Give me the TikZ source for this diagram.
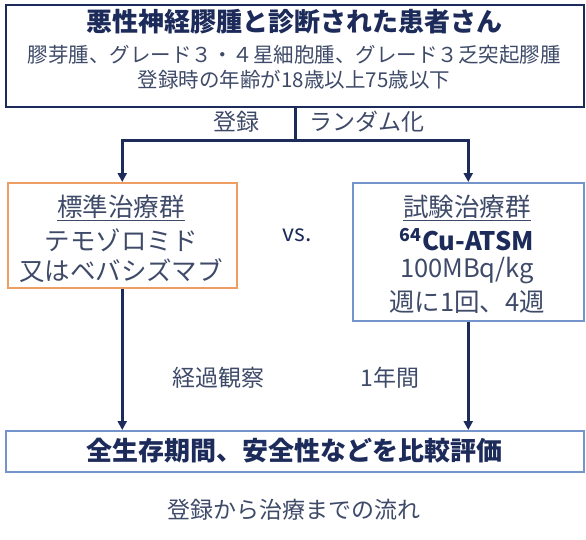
\documentclass[tikz,border=0pt]{standalone}
\usepackage{fontspec}
\setmainfont{Noto Sans CJK JP}
\usetikzlibrary{arrows.meta}
\definecolor{navy}{HTML}{1C2B5A}
\definecolor{slate}{HTML}{3E4A68}
\definecolor{boxorange}{HTML}{EE9E62}
\definecolor{boxblue}{HTML}{7494CC}
\newcommand{\bigtxt}{\fontsize{25.5}{30}\selectfont}
\newcommand{\midtxt}{\fontsize{20.5}{24}\selectfont}
\newcommand{\lbltxt}{\fontsize{23}{27}\selectfont}
\begin{document}
\begin{tikzpicture}[x=1pt, y=-1pt,
    box/.style={draw, line width=1.5pt, inner sep=0pt, anchor=north west},
    txt/.style={inner sep=0pt, text=slate},
    flow/.style={draw=navy, line width=3pt},
    arr/.style={flow, -{Triangle[length=9pt,width=9pt]}}]
	\useasboundingbox (0,0) rectangle (586,539);
	% boxes
	\node[box, draw=navy, line width=2pt, minimum width=578, minimum height=102] (patient) at (5,4) {};
	\node[box, draw=boxorange, minimum width=229, minimum height=105] (std) at (7,182) {};
	\node[box, draw=boxblue, minimum width=231, minimum height=138] (trial) at (352,182) {};
	\node[box, draw=boxblue, minimum width=578, minimum height=41] (eval) at (5,430) {};
	% texts in the top box
	\node[txt, text=navy, font=\fontsize{26}{30}\selectfont\bfseries] (title) at (294,22) {悪性神経膠腫と診断された患者さん};
	\node[txt, font=\midtxt] (types) at (294,55) {膠芽腫、グレード３・４星細胞腫、グレード３乏突起膠腫};
	\node[txt, font=\midtxt] (age) at (294,80) {登録時の年齢が18歳以上75歳以下};
	% arms
	\node[txt, font=\bigtxt] (stdname) at (121,208) {\underline{標準治療群}};
	\node[txt, font=\bigtxt] (tmz) at (121,240) {テモゾロミド};
	\node[txt, font=\bigtxt] (bev) at (121,271) {又はベバシズマブ};
	\node[txt, font=\bigtxt] (trialname) at (467,208) {\underline{試験治療群}};
	\node[txt, text=navy, font=\bigtxt\bfseries] (drug) at (467,240) {\textsuperscript{64}Cu-ATSM};
	\node[txt, font=\bigtxt] (dose) at (467,271) {100MBq/kg};
	\node[txt, font=\bigtxt] (sched) at (467,302) {週に1回、4週};
	\node[txt, text=navy, font=\lbltxt] (vs) at (297,235) {vs.};
	% labels
	\node[txt, font=\lbltxt] (reg) at (236,122) {登録};
	\node[txt, font=\lbltxt] (rand) at (367,122) {ランダム化};
	\node[txt, font=\lbltxt] (follow) at (218,378) {経過観察};
	\node[txt, font=\lbltxt] (year) at (390,378) {1年間};
	\node[txt, text=navy, font=\fontsize{26}{30}\selectfont\bfseries] (evaltxt) at (294,451) {全生存期間、安全性などを比較評価};
	\node[txt, font=\lbltxt] (caption) at (294,510) {登録から治療までの流れ};
	% connectors
	\coordinate (split) at (295,140);
	\draw[flow] (patient.south -| split) -- (split);
	\draw[arr] (split) -| (std.north);
	\draw[arr] (split) -| (trial.north);
	\draw[arr] (std.south) -- (std.south |- eval.north);
	\draw[arr] (trial.south) -- (trial.south |- eval.north);
\end{tikzpicture}
\end{document}
